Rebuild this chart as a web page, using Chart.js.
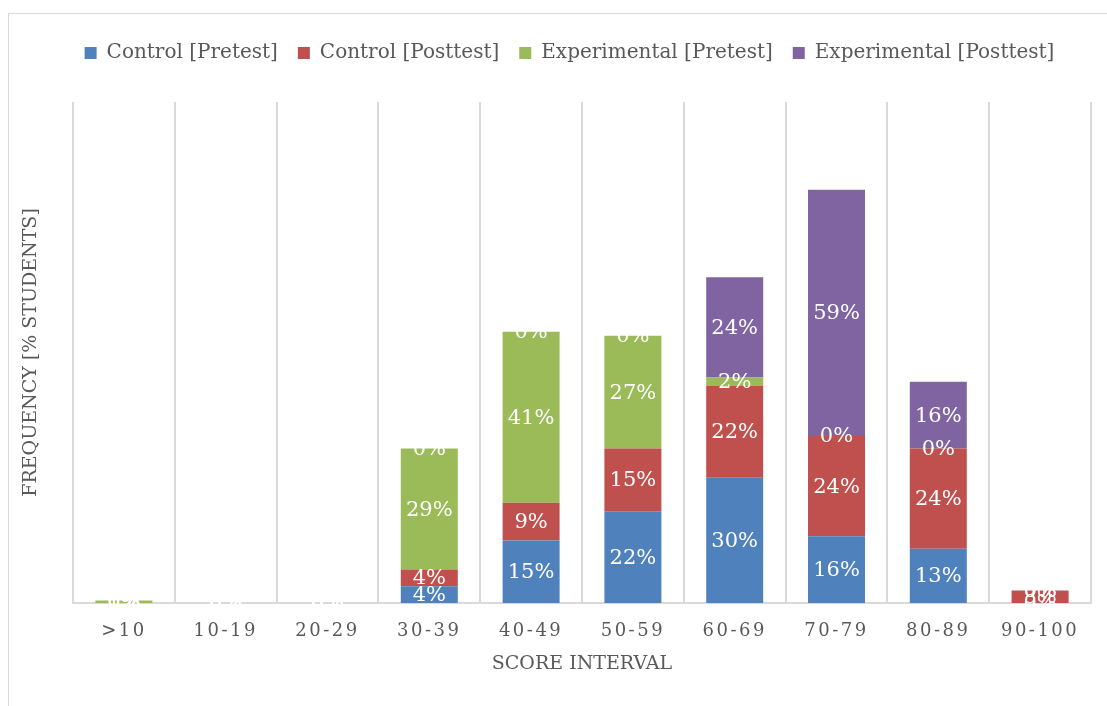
<!DOCTYPE html>
<html><head><meta charset="utf-8">
<script src="https://cdn.jsdelivr.net/npm/chart.js@4"></script>
<style>
html,body{margin:0;padding:0;background:#fff;overflow:hidden;width:1107px;height:706px;}
#frame{position:absolute;left:8px;top:13px;width:1200px;height:800px;border:1px solid #D9D9D9;box-sizing:border-box;}
#c{position:absolute;left:0;top:0;}
</style></head><body>
<div id="frame"></div>
<canvas id="c" width="1138" height="706"></canvas>
<script>
const categories = ['>10','10-19','20-29','30-39','40-49','50-59','60-69','70-79','80-89','90-100'];
const controlPretest = [0,0,0,4,15,22,30,16,13,0];
const controlPosttest = [0,0,0,4,9,15,22,24,24,3];
const experimentalPretest = [0.6,0,0,29,41,27,2,0,0,0];
const experimentalPosttest = [0,0,0,0,0,0,24,59,16,0];
const seriesNames = ['Control [Pretest]','Control [Posttest]','Experimental [Pretest]','Experimental [Posttest]'];
const seriesColors = ['#4F81BD','#C0504D','#9BBB59','#8064A2'];
const seriesData = [controlPretest, controlPosttest, experimentalPretest, experimentalPosttest];

const FONT = 'DejaVu Serif';
const TEXT = '#595959';

const barLabels = {
  id: 'barLabels',
  afterDatasetsDraw(chart) {
    const ctx = chart.ctx;
    ctx.save();
    ctx.font = '21px "' + FONT + '"';
    ctx.fillStyle = '#ffffff';
    ctx.textAlign = 'center';
    ctx.textBaseline = 'middle';
    chart.data.datasets.forEach((ds, i) => {
      const meta = chart.getDatasetMeta(i);
      meta.data.forEach((bar, j) => {
        const v = ds.data[j];
        ctx.fillText(Math.round(v) + '%', bar.x, (bar.y + bar.base) / 2 + 1);
      });
    });
    ctx.restore();
  }
};

const legendPlace = {
  id: 'legendPlace',
  beforeLayout(chart) {
    const lg = chart.legend;
    if (lg && !lg._patched) {
      const f = lg.fit;
      lg.fit = function () { f.call(this); this.height = 79; };
      lg._patched = true;
    }
  },
  afterLayout(chart) {
    const lg = chart.legend;
    if (lg) { lg.left += 24; lg.right += 24; }
  }
};

const tickSpacing = {
  id: 'tickSpacing',
  beforeDraw(chart) {
    const sc = chart.scales.x;
    if (sc && !sc._spaced) {
      const orig = sc.drawLabels;
      sc.drawLabels = function (ca) {
        const c = chart.ctx;
        const prev = c.letterSpacing;
        c.letterSpacing = '2.5px';
        orig.call(this, ca);
        c.letterSpacing = prev || '0px';
      };
      sc._spaced = true;
    }
  }
};

new Chart(document.getElementById('c'), {
  type: 'bar',
  data: {
    labels: categories,
    datasets: seriesData.map((d, i) => ({
      label: seriesNames[i],
      data: d,
      backgroundColor: seriesColors[i],
      borderWidth: 0,
      barPercentage: 0.56,
      categoryPercentage: 1
    }))
  },
  options: {
    responsive: false,
    animation: false,
    layout: { padding: { top: 23, left: 0, right: 47, bottom: 0 } },
    plugins: {
      tooltip: { enabled: false },
      legend: {
        position: 'top',
        labels: {
          boxWidth: 12, boxHeight: 12, padding: 20, color: TEXT,
          font: { family: FONT, size: 20 }
        }
      }
    },
    scales: {
      x: {
        stacked: true,
        grid: { color: '#D9D9D9', lineWidth: 2, drawTicks: false, offset: true },
        border: { color: '#D9D9D9', width: 2 },
        ticks: { color: TEXT, font: { family: FONT, size: 18 }, padding: 18, maxRotation: 0, autoSkip: false },
        title: { display: true, text: 'SCORE INTERVAL', color: TEXT, font: { family: FONT, size: 19 }, padding: { top: 0, bottom: 31 } },
        afterFit(scale) { scale.height = 103; }
      },
      y: {
        stacked: true,
        min: 0, max: 120,
        grid: { display: false },
        border: { display: false },
        ticks: { display: false },
        title: { display: true, text: 'FREQUENCY [% STUDENTS]', color: TEXT, font: { family: FONT, size: 19 }, padding: { top: 20, bottom: 0 } },
        afterFit(scale) { scale.width = 73; }
      }
    }
  },
  plugins: [barLabels, legendPlace, tickSpacing]
});
</script>
</body></html>
